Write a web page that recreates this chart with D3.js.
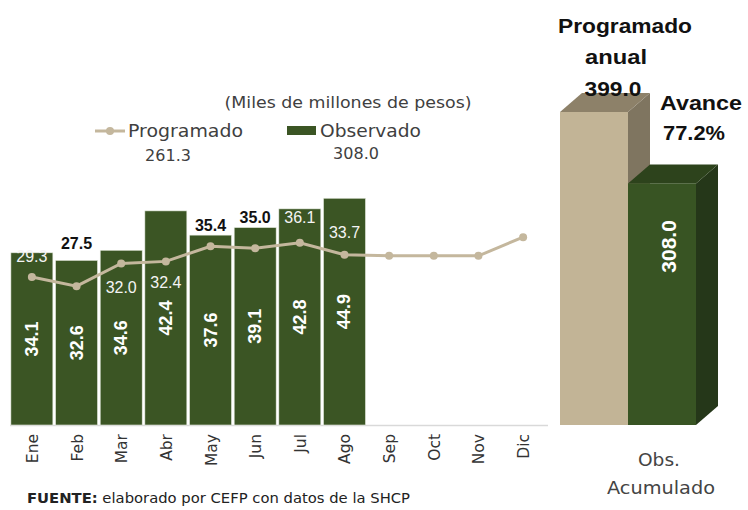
<!DOCTYPE html>
<html>
<head>
<meta charset="utf-8">
<script src="https://cdn.jsdelivr.net/npm/d3@7"></script>
<style>
  html, body { margin: 0; padding: 0; background: #fff; }
  svg { display: block; }
</style>
</head>
<body>
<svg id="chart"></svg>
<script>
// monthly chart data
const months     = ["Ene","Feb","Mar","Abr","May","Jun","Jul","Ago","Sep","Oct","Nov","Dic"];
const observado  = [34.1, 32.6, 34.6, 42.4, 37.6, 39.1, 42.8, 44.9];
const programado = [29.3, 27.5, 32.0, 32.4, 35.4, 35.0, 36.1, 33.7, 33.5, 33.5, 33.5, 37.2];
const progLabels = ["29.3","27.5","32.0","32.4","35.4","35.0","36.1","33.7"];
// accumulated
const acumCats   = ["Programado anual", "Obs. Acumulado"];
const acumValues = [399.0, 308.0];
const totalProg  = "261.3";
const totalObs   = "308.0";
const avance     = "77.2%";

const W = 748, H = 510;
const FONT = "'DejaVu Sans', sans-serif";
const NUMFONT = "'Liberation Sans', Arial, sans-serif";
const GREEN = "#3b5524", TAN = "#c4b79d";

const svg = d3.select("#chart").attr("width", W).attr("height", H);

// ── left chart ───────────────────────────────────────────
const base = 425;
const x = d3.scaleBand().domain(months).range([10, 545]).paddingInner(0.06).paddingOuter(0.02);
const y = d3.scaleLinear().domain([0, 50]).range([base, base - 50 * 5.05]);

svg.append("line")
  .attr("x1", 10).attr("x2", 548).attr("y1", base + 0.5).attr("y2", base + 0.5)
  .attr("stroke", "#d9d9d9").attr("stroke-width", 1.5);

const bars = svg.append("g");
bars.selectAll("rect").data(observado).enter().append("rect")
  .attr("x", (d, i) => x(months[i]))
  .attr("y", d => y(d))
  .attr("width", x.bandwidth())
  .attr("height", d => base - y(d))
  .attr("fill", GREEN)
  .attr("stroke", "#e6ebe0").attr("stroke-width", 0.6);

bars.selectAll("text").data(observado).enter().append("text")
  .attr("transform", (d, i) => `translate(${x(months[i]) + x.bandwidth() / 2 + 6},${(y(d) + base) / 2}) rotate(-90)`)
  .attr("text-anchor", "middle")
  .attr("fill", "#fff").attr("font-weight", "bold")
  .attr("font-size", 18).attr("font-family", NUMFONT)
  .text(d => d.toFixed(1));

// programmed line
const cx = m => x(m) + x.bandwidth() / 2;
const line = d3.line().x((d, i) => cx(months[i])).y(d => y(d));
svg.append("path").datum(programado)
  .attr("d", line).attr("fill", "none")
  .attr("stroke", TAN).attr("stroke-width", 3);
svg.append("g").selectAll("circle").data(programado).enter().append("circle")
  .attr("cx", (d, i) => cx(months[i])).attr("cy", d => y(d)).attr("r", 4)
  .attr("fill", TAN);

// programmed labels: vertical nudge from point, and whether text sits on the bar
const labelDy  = [-21, -43, 24, 21, -21, -31, -26, -23];
const labelOnBar = [true, false, true, true, false, false, true, true];
svg.append("g").selectAll("text").data(progLabels).enter().append("text")
  .attr("x", (d, i) => cx(months[i]))
  .attr("y", (d, i) => y(programado[i]) + labelDy[i] + 6)
  .attr("text-anchor", "middle")
  .attr("font-family", NUMFONT)
  .attr("font-size", 16)
  .attr("font-weight", (d, i) => labelOnBar[i] ? "normal" : "bold")
  .attr("fill", (d, i) => labelOnBar[i] ? "#f4f4f4" : "#111")
  .text(d => d);

// month labels
svg.append("g").selectAll("text").data(months).enter().append("text")
  .attr("transform", m => `translate(${cx(m) + 6},${base + 9}) rotate(-90)`)
  .attr("text-anchor", "end")
  .attr("font-family", FONT).attr("font-size", 15.5).attr("fill", "#333")
  .text(m => m);

// unit + legend
svg.append("text").attr("x", 348).attr("y", 108).attr("text-anchor", "middle")
  .attr("font-family", FONT).attr("font-size", 16.5).attr("fill", "#404040")
  .attr("textLength", 247).attr("lengthAdjust", "spacingAndGlyphs")
  .text("(Miles de millones de pesos)");

svg.append("line").attr("x1", 95).attr("x2", 125).attr("y1", 131).attr("y2", 131)
  .attr("stroke", TAN).attr("stroke-width", 3);
svg.append("circle").attr("cx", 110).attr("cy", 131).attr("r", 4).attr("fill", TAN);
svg.append("text").attr("x", 128).attr("y", 137)
  .attr("font-family", FONT).attr("font-size", 17).attr("fill", "#404040")
  .attr("textLength", 115).attr("lengthAdjust", "spacingAndGlyphs").text("Programado");
svg.append("text").attr("x", 168).attr("y", 161).attr("text-anchor", "middle")
  .attr("font-family", FONT).attr("font-size", 16).attr("fill", "#404040").text(totalProg);

svg.append("rect").attr("x", 287).attr("y", 126).attr("width", 29).attr("height", 9).attr("fill", GREEN);
svg.append("text").attr("x", 320).attr("y", 137)
  .attr("font-family", FONT).attr("font-size", 17).attr("fill", "#404040")
  .attr("textLength", 101).attr("lengthAdjust", "spacingAndGlyphs").text("Observado");
svg.append("text").attr("x", 356).attr("y", 159).attr("text-anchor", "middle")
  .attr("font-family", FONT).attr("font-size", 16).attr("fill", "#404040").text(totalObs);

// source
const src = svg.append("text").attr("x", 27).attr("y", 503)
  .attr("font-family", FONT).attr("font-size", 13.5).attr("fill", "#222")
  .attr("textLength", 383).attr("lengthAdjust", "spacingAndGlyphs");
src.append("tspan").attr("font-weight", "bold").text("FUENTE:");
src.append("tspan").text(" elaborado por CEFP con datos de la SHCP");

// ── right: accumulated 3D bars ───────────────────────────
const ya = d3.scaleLinear().domain([0, 399]).range([base, base - 313]);
const xa = d3.scaleBand().domain(acumCats).range([560, 696]).padding(0);
const depthX = 22, depthY = -19;
const faces = [
  { front: "#c2b496", top: "#8d8169", side: "#7f7560" },
  { front: "#385423", top: "#2d431c", side: "#253719" }
];

const g3 = svg.append("g");
acumValues.forEach((v, i) => {
  const x0 = xa(acumCats[i]), x1 = x0 + xa.bandwidth(), yt = ya(v);
  const c = faces[i];
  g3.append("path")
    .attr("d", `M${x1},${yt}L${x1 + depthX},${yt + depthY}L${x1 + depthX},${base + depthY}L${x1},${base}Z`)
    .attr("fill", c.side);
  g3.append("path")
    .attr("d", `M${x0},${yt}L${x0 + depthX},${yt + depthY}L${x1 + depthX},${yt + depthY}L${x1},${yt}Z`)
    .attr("fill", c.top);
  g3.append("rect").attr("x", x0).attr("y", yt).attr("width", xa.bandwidth()).attr("height", base - yt)
    .attr("fill", c.front);
});

g3.append("text")
  .attr("transform", `translate(${xa(acumCats[1]) + xa.bandwidth() / 2 + 14},${ya(acumValues[1]) + 63}) rotate(-90)`)
  .attr("text-anchor", "middle")
  .attr("font-family", NUMFONT)
  .attr("font-size", 21).attr("font-weight", "bold").attr("fill", "#fff")
  .text(acumValues[1].toFixed(1));

const bold = (t, xx, yy, len) => svg.append("text").attr("x", xx).attr("y", yy)
  .attr("text-anchor", "middle")
  .attr("font-family", NUMFONT)
  .attr("font-size", 20).attr("font-weight", "bold").attr("fill", "#111")
  .attr("textLength", len).attr("lengthAdjust", "spacingAndGlyphs").text(t);
bold("Programado", 625, 33, 134);
bold("anual", 616, 64, 62);
bold(acumValues[0].toFixed(1), 613, 96, 57);
bold("Avance", 701, 110, 82);
bold(avance, 694, 140, 62);

svg.append("text").attr("x", 659).attr("y", 466).attr("text-anchor", "middle")
  .attr("font-family", FONT).attr("font-size", 17).attr("fill", "#444")
  .attr("textLength", 42).attr("lengthAdjust", "spacingAndGlyphs").text("Obs.");
svg.append("text").attr("x", 661).attr("y", 494).attr("text-anchor", "middle")
  .attr("font-family", FONT).attr("font-size", 17).attr("fill", "#444")
  .attr("textLength", 108).attr("lengthAdjust", "spacingAndGlyphs").text("Acumulado");
</script>
</body>
</html>
